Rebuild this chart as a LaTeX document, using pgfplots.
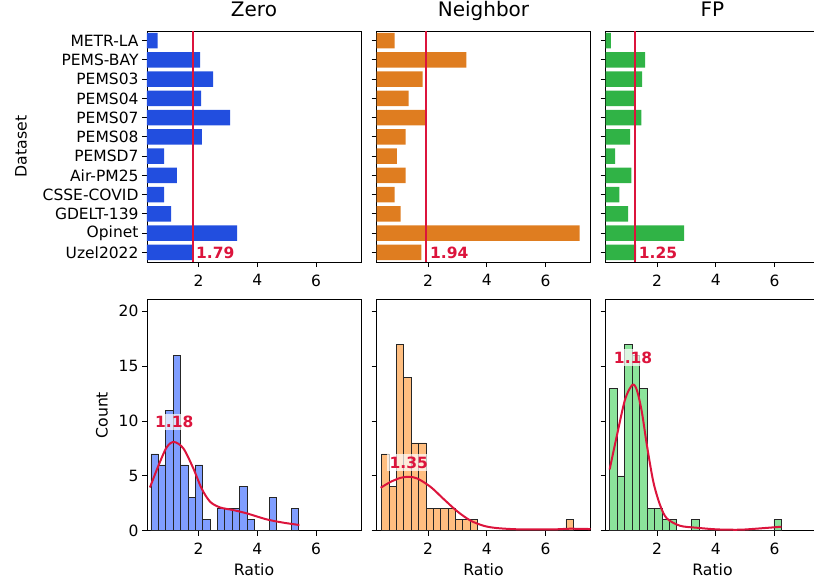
\documentclass[border=0pt]{standalone}
\usepackage{pgfplots}
\pgfplotsset{compat=1.18}
\usepackage{fontspec}
\setmainfont{DejaVu Sans}
\definecolor{zeroc}{HTML}{224EDF}
\definecolor{nbc}{HTML}{DF7D20}
\definecolor{fpc}{HTML}{30B346}
\definecolor{zeroh}{HTML}{809EFF}
\definecolor{nbh}{HTML}{FFBE80}
\definecolor{fph}{HTML}{8CE49B}
\definecolor{crim}{HTML}{DC143C}
\tikzset{lab/.style={text=crim, font=\fontsize{15.5}{18}\selectfont\bfseries, fill=white, fill opacity=0.7, text opacity=1, inner sep=2.5pt}}
\pgfplotsset{
  base/.style={
    scale only axis, width=214pt, height=231pt,
    anchor=south west,
    xmin=0.24, xmax=7.53, xtick={2,4,6},
    tick align=outside, tick pos=left, major tick length=5pt,
    axis line style={line width=0.9pt, black},
    every tick/.style={black, line width=0.9pt},
    /pgf/number format/assume math mode=true,
    tick label style={font=\fontsize{15.5}{18}\selectfont},
    xticklabel style={yshift=-4pt},
    label style={font=\fontsize{15.7}{18}\selectfont},
    xlabel style={yshift=-2pt},
    title style={font=\fontsize{20}{24}\selectfont, anchor=base, at={(0.5,1)}, yshift=8pt},
  },
  nolab/.style={yticklabel style={opacity=0}},
  toprow/.style={base, y dir=reverse, ymin=-0.5, ymax=11.5, ytick={0,...,11}},
  botrow/.style={base, ymin=0, ymax=21.06, ytick={0,5,10,15,20}, xlabel={Ratio}},
}
\begin{document}
\begin{tikzpicture}
% ---------------- top row ----------------
\begin{axis}[toprow, at={(147pt,319pt)}, title={Zero}, ylabel={Dataset}, ylabel shift=9pt,
  yticklabels={METR-LA,PEMS-BAY,PEMS03,PEMS04,PEMS07,PEMS08,PEMSD7,Air-PM25,CSSE-COVID,GDELT-139,Opinet,Uzel2022}]
\addplot[xbar, bar width=0.8, fill=zeroc, draw=none] coordinates {
(0.60,0) (2.05,1) (2.49,2) (2.08,3) (3.07,4) (2.11,5) (0.82,6) (1.26,7) (0.82,8) (1.06,9) (3.31,10) (1.82,11)};
\addplot[sharp plot, crim, line width=2pt] coordinates {(1.79,-0.5) (1.79,11.5)};
\node[lab, anchor=west, xshift=1pt] at (axis cs:1.79,11) {1.79};
\end{axis}
\begin{axis}[toprow, nolab, at={(376.5pt,319pt)}, title={Neighbor}]
\addplot[xbar, bar width=0.8, fill=nbc, draw=none] coordinates {
(0.86,0) (3.30,1) (1.81,2) (1.33,3) (1.91,4) (1.23,5) (0.93,6) (1.23,7) (0.86,8) (1.06,9) (7.16,10) (1.77,11)};
\addplot[sharp plot, crim, line width=2pt] coordinates {(1.94,-0.5) (1.94,11.5)};
\node[lab, anchor=west, xshift=1pt] at (axis cs:1.94,11) {1.94};
\end{axis}
\begin{axis}[toprow, nolab, at={(605.5pt,319pt)}, title={FP}]
\addplot[xbar, bar width=0.8, fill=fpc, draw=none] coordinates {
(0.42,0) (1.59,1) (1.49,2) (1.22,3) (1.46,4) (1.08,5) (0.57,6) (1.12,7) (0.71,8) (1.01,9) (2.92,10) (1.29,11)};
\addplot[sharp plot, crim, line width=2pt] coordinates {(1.25,-0.5) (1.25,11.5)};
\node[lab, anchor=west, xshift=1pt] at (axis cs:1.25,11) {1.25};
\end{axis}
% ---------------- bottom row ----------------
\begin{axis}[botrow, at={(147pt,50.3pt)}, ylabel={Count}, ylabel shift=4pt]
\addplot[ybar interval, fill=zeroh, draw=black!85, line width=0.7pt] coordinates {
(0.375,7) (0.626,6) (0.878,11) (1.129,16) (1.380,6) (1.632,3) (1.883,6) (2.134,1) (2.385,0) (2.637,2)
(2.888,2) (3.139,2) (3.391,4) (3.642,1) (3.893,0) (4.145,0) (4.396,3) (4.647,0) (4.898,0) (5.150,2) (5.401,0)};
\addplot[crim, line width=2pt, smooth] coordinates {
(0.34,3.94) (0.625,5.9) (0.91,7.6) (1.16,8.09) (1.48,7.5) (1.82,5.67) (2.10,3.85) (2.39,2.64) (2.73,2.12) (3.18,1.88) (3.64,1.58) (4.32,1.03) (4.89,0.73) (5.43,0.52)};
\node[lab] at (axis cs:1.17,9.9) {1.18};
\end{axis}
\begin{axis}[botrow, nolab, at={(376.5pt,50.3pt)}]
\addplot[ybar interval, fill=nbh, draw=black!85, line width=0.7pt] coordinates {
(0.417,7) (0.668,4) (0.919,17) (1.170,14) (1.421,8) (1.672,8) (1.923,2) (2.174,2) (2.425,2) (2.676,2)
(2.927,1) (3.178,1) (3.429,1) (3.680,0) (3.931,0) (4.182,0) (4.433,0) (4.684,0) (4.935,0) (5.186,0)
(5.437,0) (5.688,0) (5.939,0) (6.190,0) (6.441,0) (6.692,1) (6.943,0)};
\addplot[crim, line width=2pt, smooth] coordinates {
(0.38,3.91) (0.72,4.45) (1.06,4.82) (1.34,4.91) (1.63,4.76) (2.08,4.0) (2.53,2.88) (2.98,1.79) (3.43,0.94) (3.89,0.45) (4.34,0.24) (5.13,0.12) (6.26,0.12) (6.82,0.18) (7.53,0.15)};
\node[lab] at (axis cs:1.34,6.2) {1.35};
\end{axis}
\begin{axis}[botrow, nolab, at={(605.5pt,50.3pt)}]
\addplot[ybar interval, fill=fph, draw=black!85, line width=0.7pt] coordinates {
(0.379,13) (0.634,5) (0.888,17) (1.143,16) (1.397,13) (1.652,2) (1.906,2) (2.161,1) (2.415,1) (2.670,0)
(2.924,0) (3.179,1) (3.433,0) (3.688,0) (3.942,0) (4.197,0) (4.452,0) (4.706,0) (4.961,0) (5.215,0)
(5.470,0) (5.724,0) (5.979,1) (6.233,0)};
\addplot[crim, line width=2pt, smooth] coordinates {
(0.38,5.58) (0.63,8.7) (0.91,12.0) (1.16,13.3) (1.31,12.8) (1.48,10.8) (1.65,7.8) (1.87,4.45) (2.10,2.33) (2.33,1.12) (2.78,0.45) (3.35,0.27) (4.03,0.12) (4.82,0.09) (5.50,0.21) (6.23,0.36)};
\node[lab] at (axis cs:1.18,15.8) {1.18};
\end{axis}
\pgfresetboundingbox
\path[use as bounding box] (0,0) rectangle (814pt,581pt);
\end{tikzpicture}
\end{document}
